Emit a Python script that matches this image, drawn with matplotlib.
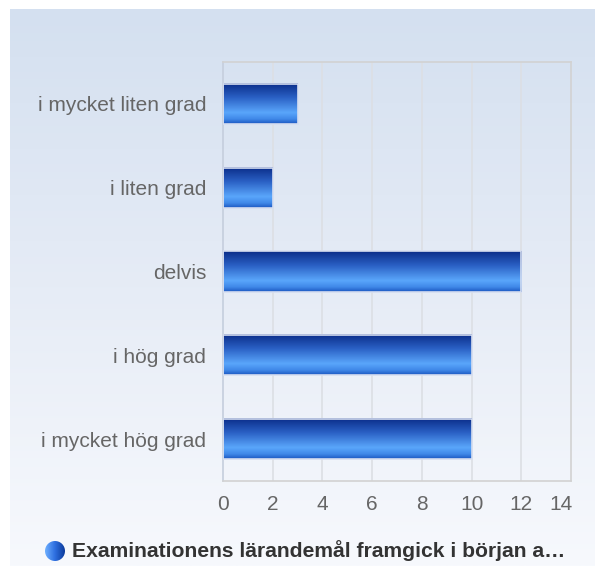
import numpy as np
import matplotlib.pyplot as plt
import matplotlib.transforms as mtransforms
from matplotlib.colors import LinearSegmentedColormap
from matplotlib.patches import Circle

plt.rcParams['font.family'] = ['Liberation Sans', 'DejaVu Sans']

categories = ['i mycket liten grad', 'i liten grad', 'delvis', 'i hög grad', 'i mycket hög grad']
values = [3, 2, 12, 10, 10]
xticks = [0, 2, 4, 6, 8, 10, 12, 14]
series_name = 'Examinationens lärandemål framgick i början a…'

W, H = 595, 566
fig = plt.figure(figsize=(W / 100, H / 100), dpi=100)
fig.patch.set_facecolor('white')

# background panel with vertical gradient
bg = fig.add_axes([10 / W, 0, 1 - 10 / W, 1 - 9 / H])
bg_cmap = LinearSegmentedColormap.from_list('bg', ['#f7f9fd', '#e6ecf6', '#d4e0f0'])
bg.imshow(np.linspace(0, 1, 256).reshape(-1, 1), cmap=bg_cmap, aspect='auto',
          origin='lower', extent=[0, 1, 0, 1])
bg.set_axis_off()

# main axes
x0, x1, y0, y1 = 223, 571, 62, 481
ax = fig.add_axes([x0 / W, 1 - y1 / H, (x1 - x0) / W, (y1 - y0) / H])
ax.patch.set_alpha(0)

for x in xticks[1:-1]:
    ax.axvline(x, color='#dcdfe4', lw=1.2, zorder=0)

bar_cmap = LinearSegmentedColormap.from_list(
    'bar', [(0, '#0a2c88'), (0.35, '#2a60c4'), (0.72, '#5aa6fb'), (0.88, '#3f88e8'), (1, '#1b56c0')])
grad = np.linspace(0, 1, 256).reshape(-1, 1)
h = 0.48
for i, v in enumerate(values):
    ax.imshow(grad, cmap=bar_cmap, aspect='auto', extent=[0, v, i + h / 2, i - h / 2],
              zorder=2, interpolation='bilinear')
    ax.add_patch(plt.Rectangle((0, i - h / 2), v, h, fill=False, ec='#d6def0', lw=1.2, zorder=3))
ax.set_xlim(0, 14)
ax.set_ylim(len(categories) - 0.5, -0.5)

ax.set_yticks(range(len(categories)))
ax.set_yticklabels(categories)
ax.set_xticks(xticks)
ax.tick_params(length=0, labelsize=15, colors='#666666')
ax.tick_params(axis='y', pad=12)
ax.tick_params(axis='x', pad=10)
# last tick label sits a little to the left, as in the original
lbl = ax.get_xticklabels()[-1]
lbl.set_transform(lbl.get_transform() + mtransforms.ScaledTranslation(-10 / 100, 0, fig.dpi_scale_trans))
for s in ['top', 'right', 'bottom']:
    ax.spines[s].set_color('#d2d2d2')
ax.spines['left'].set_color('#c5cedd')
for s in ax.spines.values():
    s.set_linewidth(1.2)

# legend
leg = fig.add_axes([45 / W, 1 - 561 / H, 20 / W, 20 / H])
leg.set_xlim(0, 1)
leg.set_ylim(0, 1)
leg_cmap = LinearSegmentedColormap.from_list('leg', ['#6fb0ff', '#2e6fe0', '#0b3a9a'])
im = leg.imshow(np.linspace(0, 1, 256).reshape(1, -1), cmap=leg_cmap, aspect='auto',
                extent=[0, 1, 0, 1])
circ = Circle((0.5, 0.5), 0.5, transform=leg.transData)
im.set_clip_path(circ)
leg.set_axis_off()
fig.text(72 / W, 1 - 551 / H, series_name, fontsize=15.2, fontweight='bold', color='#333333',
         va='center', ha='left')

fig.savefig('out.png', dpi=100)
